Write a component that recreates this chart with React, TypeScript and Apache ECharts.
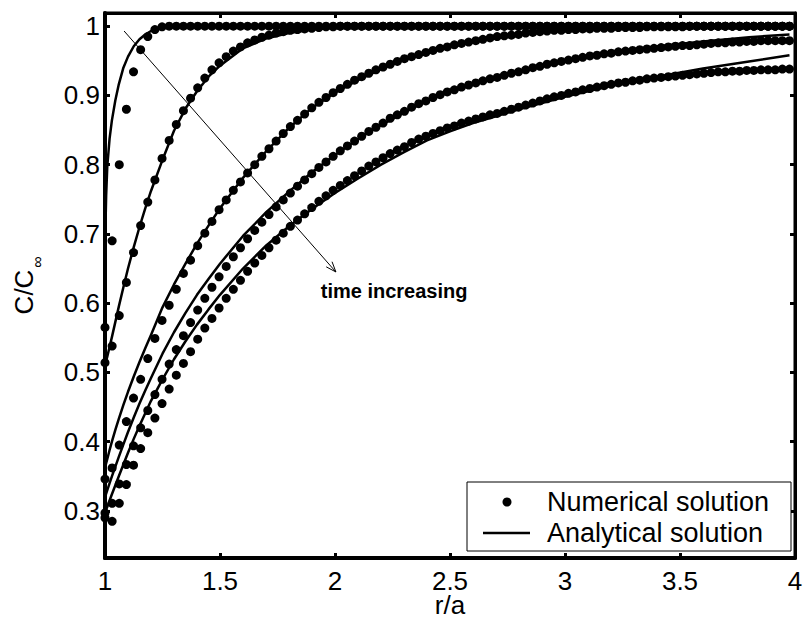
import React, { useEffect, useRef } from "react";
import * as echarts from "echarts";

// ---------- data ----------
// radial positions of the numerical solution (r/a)
const R_NUM = [
  1, 1.031, 1.062, 1.093, 1.124, 1.155, 1.186, 1.217, 1.248, 1.279,
  1.31, 1.341, 1.372, 1.403, 1.434, 1.465, 1.496, 1.527, 1.558, 1.589,
  1.62, 1.651, 1.682, 1.713, 1.744, 1.775, 1.806, 1.837, 1.868, 1.899,
  1.93, 1.961, 1.992, 2.023, 2.054, 2.085, 2.116, 2.147, 2.178, 2.209,
  2.24, 2.271, 2.302, 2.333, 2.364, 2.395, 2.426, 2.457, 2.488, 2.519,
  2.55, 2.581, 2.612, 2.643, 2.674, 2.705, 2.736, 2.767, 2.798, 2.829,
  2.86, 2.891, 2.922, 2.953, 2.984, 3.015, 3.046, 3.077, 3.108, 3.139,
  3.17, 3.201, 3.232, 3.263, 3.294, 3.325, 3.356, 3.387, 3.418, 3.449,
  3.48, 3.511, 3.542, 3.573, 3.604, 3.635, 3.666, 3.697, 3.728, 3.759,
  3.79, 3.821, 3.852, 3.883, 3.914, 3.945, 3.976,
];

const NUM_1 = [
  0.565, 0.69, 0.8, 0.88, 0.934, 0.966, 0.985, 0.995, 0.999, 1,
  1, 1, 1, 1, 1, 1, 1, 1, 1, 1,
  1, 1, 1, 1, 1, 1, 1, 1, 1, 1,
  1, 1, 1, 1, 1, 1, 1, 1, 1, 1,
  1, 1, 1, 1, 1, 1, 1, 1, 1, 1,
  1, 1, 1, 1, 1, 1, 1, 1, 1, 1,
  1, 1, 1, 1, 1, 1, 1, 1, 1, 1,
  1, 1, 1, 1, 1, 1, 1, 1, 1, 1,
  1, 1, 1, 1, 1, 1, 1, 1, 1, 1,
  1, 1, 1, 1, 1, 1, 1,
];

const NUM_2 = [
  0.514, 0.538, 0.582, 0.63, 0.673, 0.712, 0.746, 0.778, 0.809, 0.835,
  0.858, 0.878, 0.896, 0.911, 0.925, 0.937, 0.947, 0.956, 0.964, 0.97,
  0.976, 0.98, 0.984, 0.987, 0.99, 0.992, 0.994, 0.995, 0.996, 0.997,
  0.998, 0.999, 0.999, 1, 1, 1, 1, 1, 1, 1,
  1, 1, 1, 1, 1, 1, 1, 1, 1, 1,
  1, 1, 1, 1, 1, 1, 1, 1, 1, 1,
  1, 1, 1, 1, 1, 1, 1, 1, 1, 1,
  1, 1, 1, 1, 1, 1, 1, 1, 1, 1,
  1, 1, 1, 1, 1, 1, 1, 1, 1, 1,
  1, 1, 1, 1, 1, 1, 1,
];

const NUM_3 = [
  0.346, 0.362, 0.395, 0.429, 0.463, 0.49, 0.52, 0.549, 0.575, 0.597,
  0.62, 0.643, 0.662, 0.683, 0.701, 0.718, 0.735, 0.749, 0.763, 0.775,
  0.788, 0.8, 0.812, 0.823, 0.834, 0.845, 0.855, 0.864, 0.873, 0.882,
  0.89, 0.897, 0.904, 0.91, 0.916, 0.922, 0.927, 0.932, 0.937, 0.941,
  0.945, 0.949, 0.953, 0.956, 0.959, 0.962, 0.965, 0.968, 0.97, 0.973,
  0.975, 0.977, 0.979, 0.981, 0.983, 0.985, 0.986, 0.987, 0.988, 0.99,
  0.991, 0.992, 0.993, 0.994, 0.994, 0.995, 0.995, 0.996, 0.996, 0.997,
  0.997, 0.997, 0.998, 0.998, 0.998, 0.998, 0.999, 0.999, 0.999, 0.999,
  0.999, 0.999, 1, 1, 1, 1, 1, 1, 1, 1,
  1, 1, 1, 1, 1, 1, 1,
];

const NUM_4 = [
  0.297, 0.311, 0.339, 0.367, 0.394, 0.42, 0.445, 0.468, 0.49, 0.512,
  0.533, 0.553, 0.572, 0.59, 0.607, 0.623, 0.638, 0.653, 0.667, 0.68,
  0.693, 0.705, 0.717, 0.728, 0.739, 0.749, 0.759, 0.769, 0.778, 0.787,
  0.796, 0.804, 0.812, 0.82, 0.827, 0.834, 0.841, 0.848, 0.854, 0.86,
  0.867, 0.872, 0.877, 0.883, 0.888, 0.892, 0.897, 0.901, 0.905, 0.908,
  0.912, 0.915, 0.918, 0.921, 0.924, 0.926, 0.929, 0.932, 0.934, 0.937,
  0.94, 0.942, 0.945, 0.947, 0.949, 0.951, 0.953, 0.955, 0.957, 0.958,
  0.96, 0.961, 0.963, 0.964, 0.965, 0.966, 0.967, 0.968, 0.969, 0.97,
  0.971, 0.972, 0.972, 0.973, 0.974, 0.975, 0.976, 0.976, 0.977, 0.977,
  0.978, 0.978, 0.979, 0.979, 0.979, 0.979, 0.979,
];

const NUM_5 = [
  0.29, 0.285, 0.311, 0.338, 0.366, 0.39, 0.413, 0.434, 0.455, 0.476,
  0.496, 0.513, 0.53, 0.548, 0.564, 0.578, 0.593, 0.607, 0.62, 0.633,
  0.646, 0.658, 0.669, 0.68, 0.691, 0.701, 0.711, 0.72, 0.729, 0.738,
  0.747, 0.755, 0.763, 0.77, 0.777, 0.784, 0.791, 0.798, 0.804, 0.81,
  0.816, 0.821, 0.826, 0.832, 0.837, 0.841, 0.845, 0.849, 0.853, 0.856,
  0.86, 0.863, 0.866, 0.869, 0.872, 0.874, 0.877, 0.88, 0.883, 0.886,
  0.889, 0.892, 0.895, 0.898, 0.9, 0.903, 0.905, 0.908, 0.91, 0.912,
  0.914, 0.916, 0.918, 0.919, 0.921, 0.922, 0.924, 0.925, 0.926, 0.927,
  0.928, 0.929, 0.93, 0.931, 0.932, 0.933, 0.934, 0.934, 0.935, 0.935,
  0.936, 0.936, 0.937, 0.937, 0.937, 0.938, 0.938,
];

// radial positions of the analytical solution
const R_LINE = [
  1, 1.005, 1.01, 1.02, 1.03, 1.045, 1.06, 1.08, 1.1, 1.125,
  1.15, 1.175, 1.2, 1.25, 1.3, 1.35, 1.4, 1.45, 1.5, 1.6,
  1.7, 1.8, 1.9, 2.0, 2.1, 2.2, 2.3, 2.4, 2.5, 2.6,
  2.7, 2.8, 2.9, 3.0, 3.2, 3.4, 3.6, 3.8, 3.976,
];

const LINE_1 = [
  0.68, 0.755, 0.798, 0.838, 0.864, 0.893, 0.916, 0.94, 0.956, 0.971,
  0.981, 0.988, 0.993, 0.998, 0.9995, 1, 1, 1, 1, 1,
  1, 1, 1, 1, 1, 1, 1, 1, 1, 1,
  1, 1, 1, 1, 1, 1, 1, 1, 1,
];
const LINE_2 = [
  0.51, 0.516, 0.523, 0.537, 0.551, 0.573, 0.595, 0.623, 0.65, 0.681,
  0.71, 0.737, 0.762, 0.807, 0.849, 0.881, 0.906, 0.927, 0.943, 0.968,
  0.982, 0.99, 0.995, 0.998, 0.999, 0.9995, 1, 1, 1, 1,
  1, 1, 1, 1, 1, 1, 1, 1, 1,
];
const LINE_3 = [
  0.362, 0.369, 0.375, 0.388, 0.4, 0.417, 0.433, 0.453, 0.472, 0.494,
  0.515, 0.535, 0.554, 0.594, 0.627, 0.657, 0.686, 0.712, 0.737, 0.781,
  0.819, 0.853, 0.882, 0.904, 0.922, 0.938, 0.951, 0.962, 0.97, 0.977,
  0.983, 0.988, 0.991, 0.994, 0.997, 0.999, 1, 1, 1,
];
const LINE_4 = [
  0.32, 0.325, 0.33, 0.34, 0.35, 0.364, 0.378, 0.396, 0.414, 0.435,
  0.455, 0.474, 0.492, 0.527, 0.558, 0.586, 0.612, 0.635, 0.657, 0.697,
  0.731, 0.761, 0.789, 0.814, 0.837, 0.857, 0.875, 0.892, 0.905, 0.916,
  0.926, 0.934, 0.942, 0.95, 0.962, 0.971, 0.978, 0.984, 0.988,
];
const LINE_5 = [
  0.297, 0.302, 0.306, 0.315, 0.324, 0.337, 0.35, 0.367, 0.384, 0.404,
  0.423, 0.441, 0.459, 0.49, 0.519, 0.545, 0.569, 0.591, 0.612, 0.65,
  0.683, 0.711, 0.736, 0.759, 0.78, 0.8, 0.818, 0.835, 0.848, 0.86,
  0.87, 0.88, 0.889, 0.898, 0.914, 0.927, 0.939, 0.949, 0.958,
];

const NUMERICAL = [NUM_1, NUM_2, NUM_3, NUM_4, NUM_5];
const ANALYTICAL = [LINE_1, LINE_2, LINE_3, LINE_4, LINE_5];

const X_MIN = 1;
const X_MAX = 4;
const X_STEP = 0.5;
const Y_MIN = 0.232;
const Y_MAX = 1.019;
const Y_TICKS = [0.3, 0.4, 0.5, 0.6, 0.7, 0.8, 0.9, 1];

// annotation (data coordinates)
const ARROW_FROM = [1.083, 0.993];
const ARROW_TO = [2.004, 0.645];
const NOTE_AT = [2.257, 0.618];
const NOTE_TEXT = "time increasing";

const LEGEND_NUM = "Numerical solution";
const LEGEND_ANA = "Analytical solution";
const X_NAME = "r/a";
const Y_NAME = "C/C";
const Y_NAME_SUB = "\u221E";

// ---------- styling ----------
const FONT = '"Liberation Sans", Arial, Helvetica, sans-serif';
const BLACK = "#000";

const pairs = (xs: number[], ys: number[]) => xs.map((x, i) => [x, ys[i]]);

function buildOption() {
  const tickStyle = { show: true, inside: true, length: 5, lineStyle: { color: BLACK, width: 3 } };
  const series: any[] = [];
  NUMERICAL.forEach((ys) => {
    series.push({
      name: LEGEND_NUM,
      type: "scatter",
      xAxisIndex: 0,
      yAxisIndex: 0,
      symbol: "circle",
      symbolSize: 9,
      itemStyle: { color: BLACK, opacity: 1 },
      data: pairs(R_NUM, ys),
      silent: true,
      z: 2,
    });
  });
  ANALYTICAL.forEach((ys) => {
    series.push({
      name: LEGEND_ANA,
      type: "line",
      xAxisIndex: 0,
      yAxisIndex: 0,
      symbol: "none",
      showSymbol: false,
      smooth: false,
      lineStyle: { color: BLACK, width: 2.5, join: "round" },
      data: pairs(R_LINE, ys),
      silent: true,
      z: 3,
    });
  });
  series.push({
    type: "custom",
    xAxisIndex: 0,
    yAxisIndex: 0,
    silent: true,
    clip: false,
    z: 6,
    data: [ARROW_FROM],
    renderItem: (_params: any, api: any) => {
      const a = api.coord(ARROW_FROM);
      const b = api.coord(ARROW_TO);
      const t = api.coord(NOTE_AT);
      const ang = Math.atan2(b[1] - a[1], b[0] - a[0]);
      const hl = 11;
      const hw = 0.36;
      const p1 = [b[0] - hl * Math.cos(ang - hw), b[1] - hl * Math.sin(ang - hw)];
      const p2 = [b[0] - hl * Math.cos(ang + hw), b[1] - hl * Math.sin(ang + hw)];
      return {
        type: "group",
        children: [
          { type: "line", shape: { x1: a[0], y1: a[1], x2: b[0], y2: b[1] }, style: { stroke: BLACK, lineWidth: 1 } },
          { type: "polyline", shape: { points: [p1, b, p2] }, style: { stroke: BLACK, lineWidth: 1, fill: null } },
          {
            type: "text",
            x: t[0],
            y: t[1],
            style: {
              text: NOTE_TEXT,
              fill: BLACK,
              font: `bold 20px ${FONT}`,
              align: "center",
              verticalAlign: "middle",
              textAlign: "center",
              textVerticalAlign: "middle",
            },
          },
        ],
      };
    },
  });

  const txt = (x: number, y: number, text: string, size: number, extra: any = {}) => ({
    type: "text",
    x,
    y,
    z: 101,
    ...extra,
    style: {
      text,
      fill: BLACK,
      font: `${size}px ${FONT}`,
      align: extra.align || "left",
      verticalAlign: "middle",
      textAlign: extra.align || "left",
      textVerticalAlign: "middle",
    },
  });

  return {
    animation: false,
    backgroundColor: "#fff",
    textStyle: { fontFamily: FONT },
    grid: {
      left: 105,
      right: 9,
      top: 13,
      bottom: 63,
      containLabel: false,
      outerBoundsMode: "none",
      show: true,
      borderColor: BLACK,
      borderWidth: 3,
      backgroundColor: "transparent",
    },
    xAxis: [
      {
        type: "value",
        position: "bottom",
        min: X_MIN,
        max: X_MAX,
        interval: X_STEP,
        axisLine: { show: true, onZero: false, lineStyle: { color: BLACK, width: 4 } },
        axisTick: tickStyle,
        axisLabel: { color: BLACK, fontSize: 26, lineHeight: 20, fontFamily: FONT, margin: 13 },
        splitLine: { show: false },
      },
      {
        type: "value",
        position: "top",
        min: X_MIN,
        max: X_MAX,
        interval: X_STEP,
        axisLine: { show: true, onZero: false, lineStyle: { color: BLACK, width: 3 } },
        axisTick: tickStyle,
        axisLabel: { show: false },
        splitLine: { show: false },
      },
    ],
    yAxis: [
      {
        type: "value",
        position: "left",
        min: Y_MIN,
        max: Y_MAX,
        axisLine: { show: true, onZero: false, lineStyle: { color: BLACK, width: 4 } },
        axisTick: { ...tickStyle, customValues: Y_TICKS },
        axisLabel: { color: BLACK, fontSize: 26, fontFamily: FONT, margin: 5, customValues: Y_TICKS },
        splitLine: { show: false },
      },
      {
        type: "value",
        position: "right",
        min: Y_MIN,
        max: Y_MAX,
        axisLine: { show: true, onZero: false, lineStyle: { color: BLACK, width: 3 } },
        axisTick: { ...tickStyle, customValues: Y_TICKS },
        axisLabel: { show: false, customValues: Y_TICKS },
        splitLine: { show: false },
      },
    ],
    series,
    graphic: [
      // x-axis title
      txt(450, 605, X_NAME, 26, { align: "center" }),
      // y-axis title C/C∞
      txt(24, 292, Y_NAME, 26, { rotation: Math.PI / 2, align: "center" }),
      txt(37, 262, Y_NAME_SUB, 16, { rotation: Math.PI / 2, align: "center" }),
      // legend box
      {
        type: "rect",
        z: 100,
        shape: { x: 467, y: 482, width: 324, height: 69 },
        style: { fill: "#fff", stroke: BLACK, lineWidth: 1 },
      },
      { type: "circle", z: 101, shape: { cx: 507, cy: 502, r: 4.5 }, style: { fill: BLACK } },
      { type: "line", z: 101, shape: { x1: 483, y1: 533, x2: 530, y2: 533 }, style: { stroke: BLACK, lineWidth: 2.5 } },
      txt(547, 502, LEGEND_NUM, 27),
      txt(547, 533, LEGEND_ANA, 27),
    ],
  };
}

export default function App() {
  const ref = useRef<HTMLDivElement>(null);
  useEffect(() => {
    const chart = echarts.init(ref.current!, null, { renderer: "svg" });
    chart.setOption(buildOption() as any);
    return () => chart.dispose();
  }, []);
  return (
    <div
      ref={ref}
      style={{ position: "fixed", left: 0, top: 0, width: 804, height: 621, background: "#fff" }}
    />
  );
}
